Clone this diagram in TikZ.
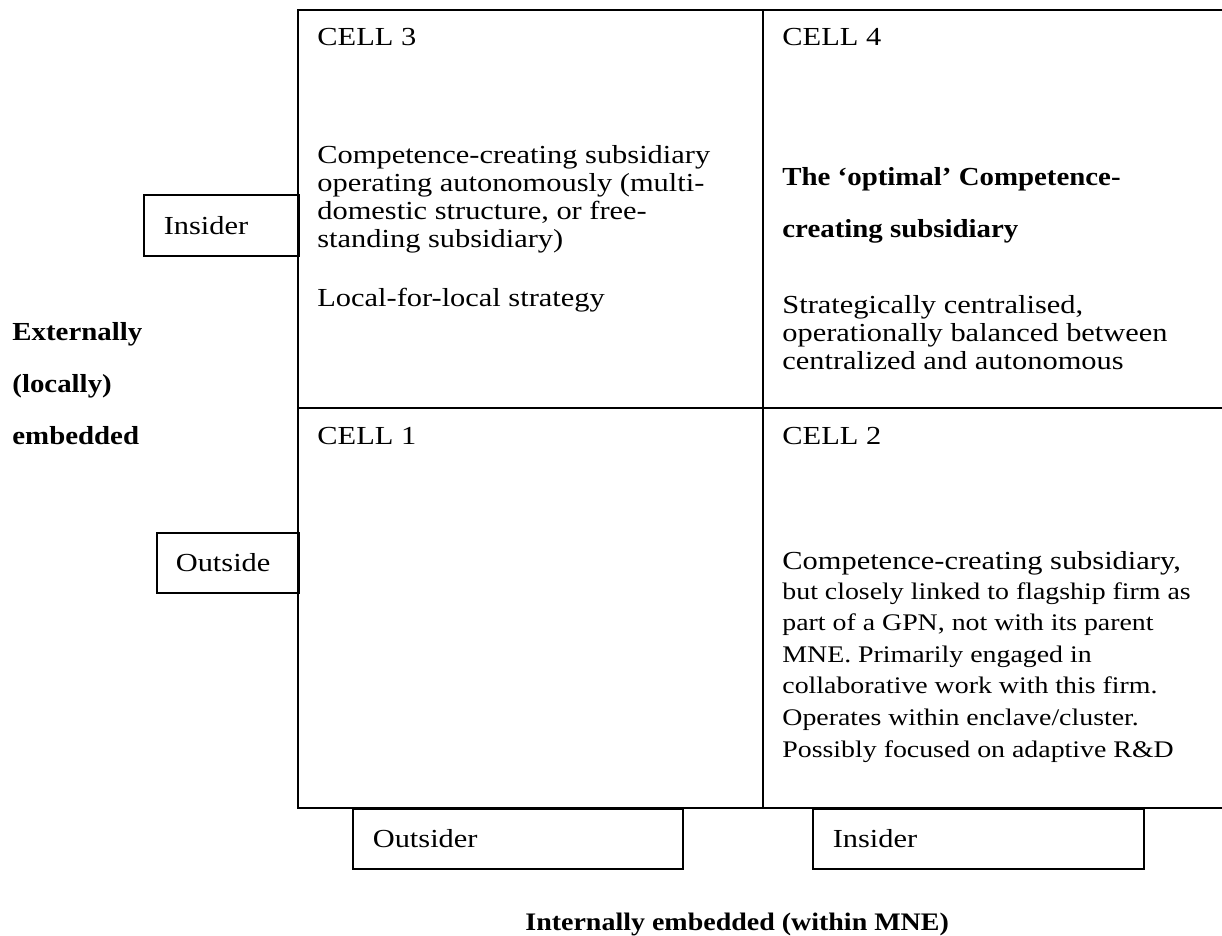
\documentclass[tikz,border=0pt]{standalone}
\usepackage{fontspec}
\setmainfont{Liberation Serif}[FakeStretch=1.17, BoldFeatures={FakeStretch=1.11}]
\usepackage{tikz}
\tikzset{>=stealth}
\tikzset{
  celltext/.style={anchor=north west, inner sep=0pt, align=left, font=\fontsize{13}{14}\selectfont},
  smalltext/.style={anchor=north west, inner sep=0pt, align=left, font=\fontsize{11.9}{15.8}\selectfont},
  boldtext/.style={anchor=north west, inner sep=0pt, align=left, font=\bfseries\fontsize{13}{26}\selectfont},
  sidebox/.style={draw, line width=0.8pt, anchor=north west, minimum height=30pt, inner ysep=0pt, inner xsep=10pt, align=left, font=\fontsize{13}{14}\selectfont},
  gridline/.style={line width=1pt}
}

\begin{document}
\begin{tikzpicture}[x=0.5pt, y=-0.5pt]
  \useasboundingbox (0,0) rectangle (1222,936);
  % the four cells
  \draw[gridline] (1222,10) -- (298,10) -- (298,808) -- (1222,808);
  \draw[gridline] (298,408) -- (1222,408);
  \draw[gridline] (763,10) -- (763,808);
  % cell headings
  \node[celltext] (cell3) at (317,28) {CELL 3};
  \node[celltext] (cell4) at (782,28) {CELL 4};
  \node[celltext] (cell1) at (317,427) {CELL 1};
  \node[celltext] (cell2) at (782,427) {CELL 2};
  % cell 3
  \node[celltext] (autonomous) at (317,145) {Competence-creating subsidiary\\operating autonomously (multi-\\domestic structure, or free-\\standing subsidiary)};
  \node[celltext] (localstrat) at (317,288) {Local-for-local strategy};
  % cell 4
  \node[boldtext] (optimal) at (782,167) {The ‘optimal’ Competence-\\creating subsidiary};
  \node[celltext] (balanced) at (782,295) {Strategically centralised,\\operationally balanced between\\centralized and autonomous};
  % cell 2
  \node[celltext] (gpnhead) at (782,551) {Competence-creating subsidiary,};
  \node[smalltext] (gpn) at (782,582) {but closely linked to flagship firm as\\part of a GPN, not with its parent\\MNE. Primarily engaged in\\collaborative work with this firm.\\Operates within enclave/cluster.\\Possibly focused on adaptive R\&D};
  % axis boxes
  \node[sidebox, text width=57.5pt, minimum height=30.5pt] (leftins) at (143,194) {Insider};
  \node[sidebox, text width=52pt, inner xsep=9.5pt] (leftout) at (156,532) {Outside};
  \node[sidebox, text width=145pt] (botout) at (352,808) {Outsider};
  \node[sidebox, text width=145.5pt] (botins) at (812,808) {Insider};
  % axis titles
  \node[boldtext] (external) at (12,322) {Externally\\(locally)\\embedded};
  \node[boldtext, font=\bfseries\fontsize{12.6}{14}\selectfont] (internal) at (525,913) {Internally embedded (within MNE)};
\end{tikzpicture}
\end{document}
